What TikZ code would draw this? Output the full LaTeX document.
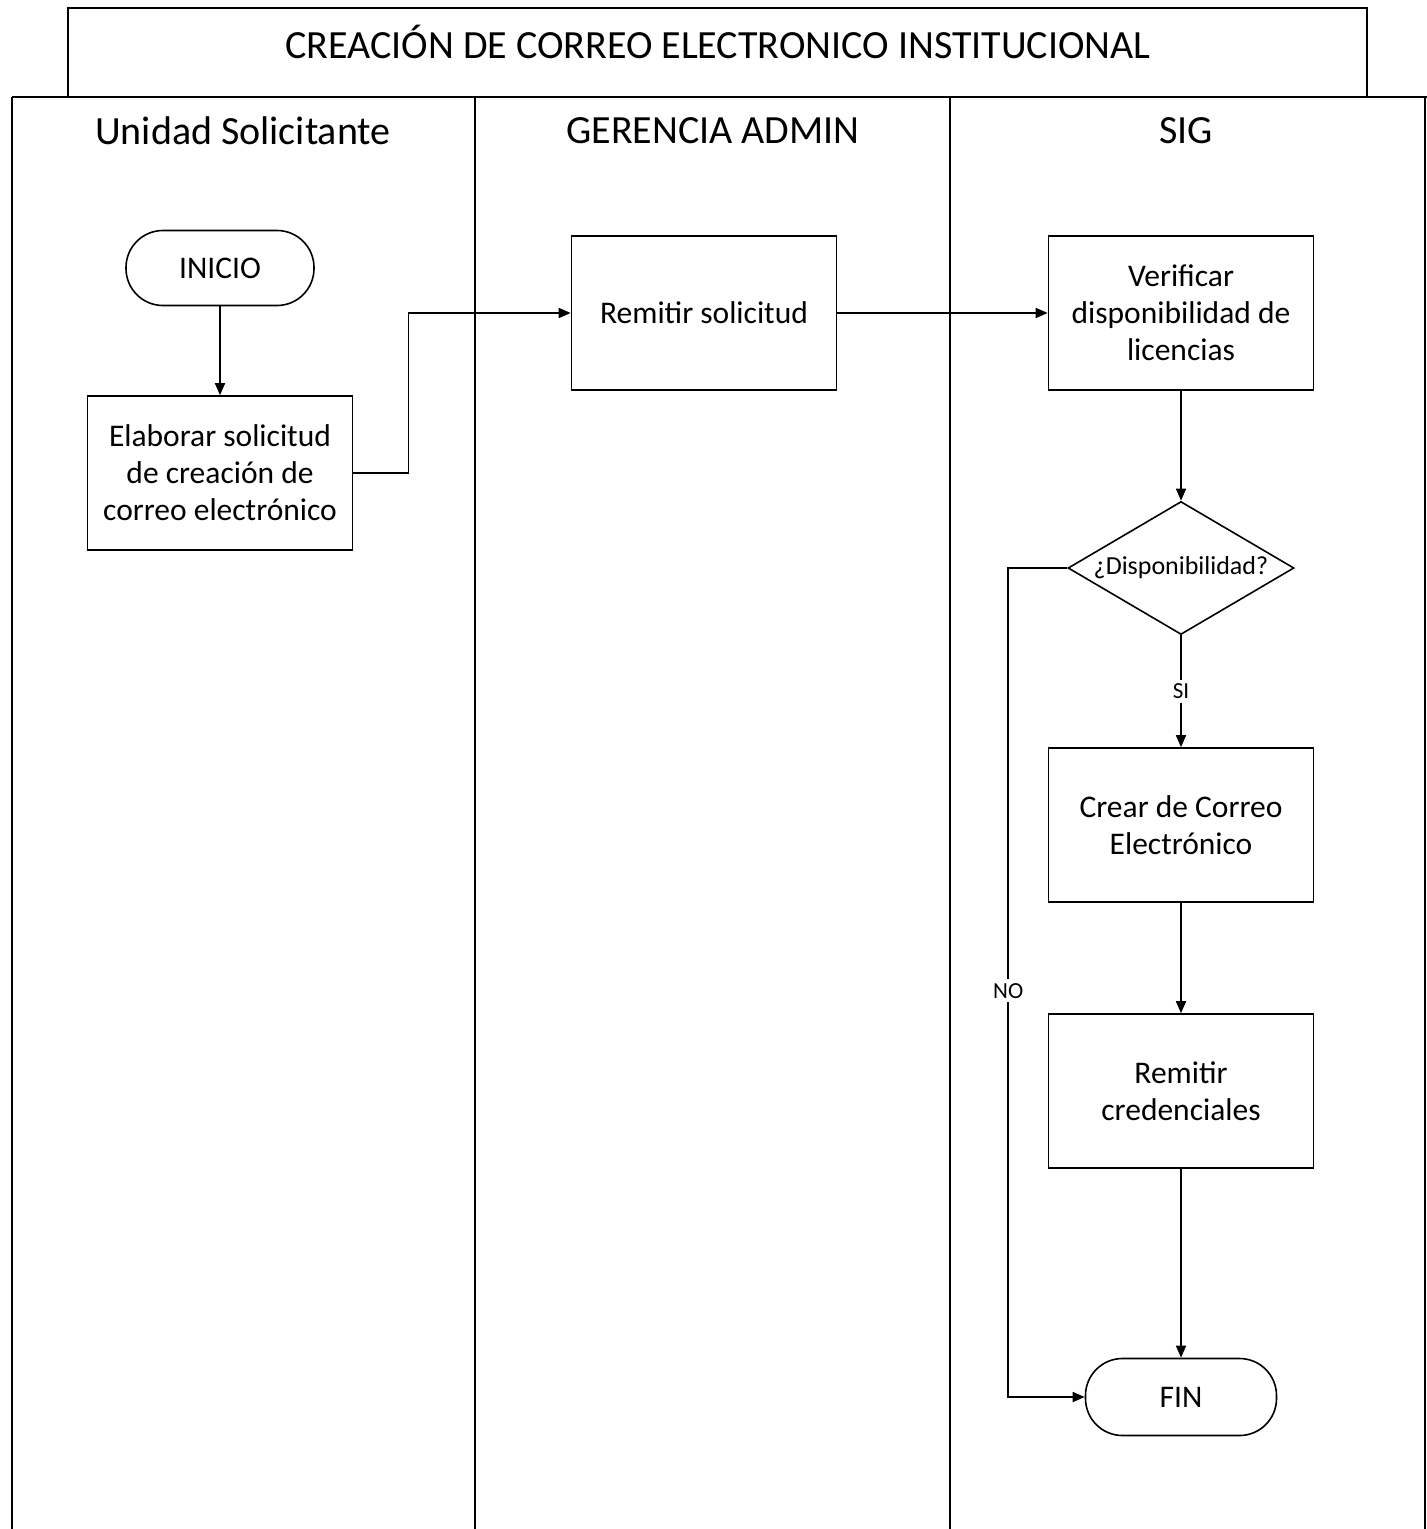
\documentclass[tikz,border=0pt]{standalone}
\usepackage{fontspec}
\setmainfont{Carlito}
\usetikzlibrary{shapes.geometric}
\usetikzlibrary{arrows.meta}

\begin{document}
\begin{tikzpicture}[x=1pt, y=-1pt]
        % ================= 样式定义 =================
        \tikzset{
            % 处理框
            proc/.style={rectangle, draw=black, line width=1.6pt, fill=white, minimum width=265pt, minimum height=154pt, inner sep=0pt, align=center, font=\fontsize{31.5}{37}\selectfont},
            % 起止框
            term/.style={rectangle, rounded corners=37pt, draw=black, line width=1.6pt, fill=white, minimum width=188pt, minimum height=75pt, inner sep=0pt, font=\fontsize{31.5}{37}\selectfont},
            % 判断框
            deci/.style={diamond, aspect=1.7, draw=black, line width=1.6pt, fill=white, minimum width=226pt, minimum height=133pt, inner sep=0pt, font=\fontsize{26}{30}\selectfont},
            % 连线与泳道
            flow/.style={line width=1.6pt, -{Triangle[length=12pt, width=10pt]}},
            lane/.style={line width=1.8pt},
            lbl/.style={fill=white, inner sep=4pt, font=\fontsize{23}{27}\selectfont},
            head/.style={font=\fontsize{40}{46}\selectfont}
        }
        \useasboundingbox (0,0) rectangle (1427,1529);

        % ================= 标题与泳道 =================
        \draw[lane] (68,8) rectangle (1367,97);
        \node[head] (titulo) at (718,42) {CREACIÓN DE CORREO ELECTRONICO INSTITUCIONAL};

        \draw[lane] (12,97) -- (1427,97);
        \foreach \lx in {12, 950, 1425}
            \draw[lane] (\lx,97) -- (\lx,1529);
        \draw[lane, line width=2.8pt] (475,97) -- (475,1529);

        \node[head] (carril1) at (243,131) {Unidad Solicitante};
        \node[head] (carril2) at (713,131) {GERENCIA ADMIN};
        \node[head] (carril3) at (1186,131) {SIG};

        % ================= 节点 =================
        \node[term] (inicio)    at (220,268)  {INICIO};
        \node[proc] (elaborar)  at (220,473)  {Elaborar solicitud\\de creación de\\correo electrónico};
        \node[proc] (remitir)   at (704,313)  {Remitir solicitud};
        \node[proc] (verificar) at (1181,313) {Verificar\\disponibilidad de\\licencias};
        \node[deci] (disp)      at (1181,568) {¿Disponibilidad?};
        \node[proc] (crear)     at (1181,825) {Crear de Correo\\Electrónico};
        \node[proc] (credenc)   at (1181,1091) {Remitir\\credenciales};
        \node[term, minimum width=191pt, minimum height=77pt] (fin) at (1181,1397) {FIN};

        % ================= 连线 =================
        \draw[flow] (inicio) -- (elaborar);
        \draw[flow] (elaborar.east) -- ++(55,0) |- (remitir.west);
        \draw[flow] (remitir) -- (verificar);
        \draw[flow] (verificar) -- (disp);
        \draw[flow] (disp) -- node[lbl] {SI} (crear);
        \draw[flow] (crear) -- (credenc);
        \draw[flow] (credenc) -- (fin);
        \draw[flow] (disp.west) -- ++(-59,0) |- node[lbl, pos=0.255] {NO} (fin.west);

    \end{tikzpicture}
\end{document}
